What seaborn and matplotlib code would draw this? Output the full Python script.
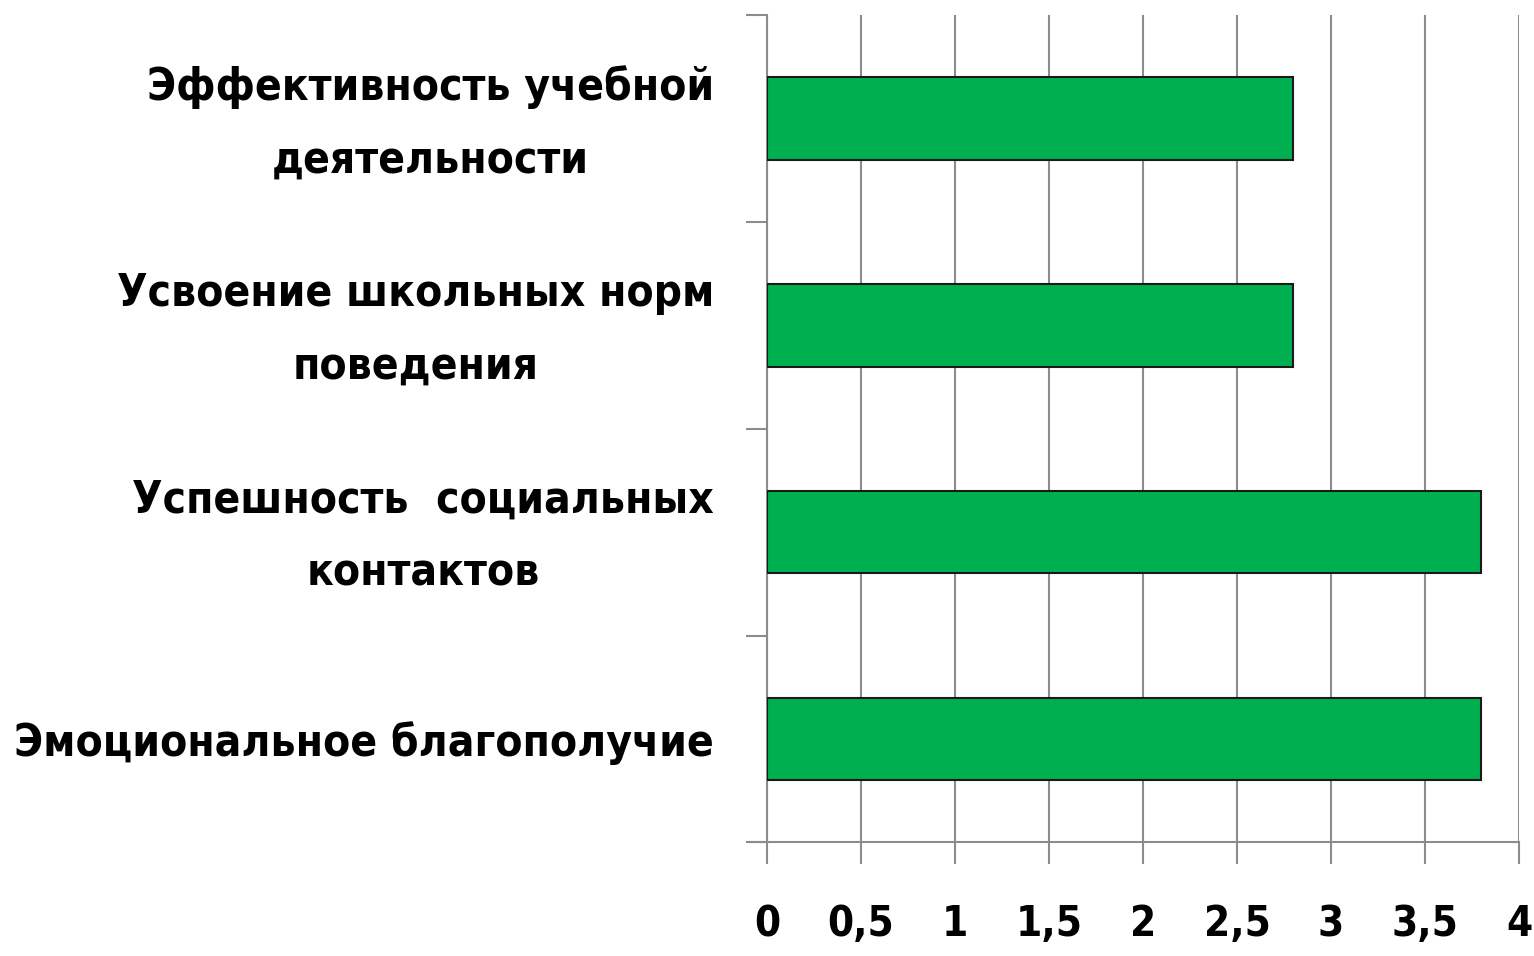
import numpy as np
import matplotlib
matplotlib.use('Agg')
import matplotlib.pyplot as plt
import matplotlib.transforms as mtransforms
import seaborn as sns
import pandas as pd
from matplotlib.ticker import FuncFormatter
from matplotlib import font_manager

# Chart data
categories = [
    'Эффективность учебной\nдеятельности',
    'Усвоение школьных норм\nповедения',
    'Успешность  социальных\nконтактов',
    'Эмоциональное благополучие',
]
values = [2.8, 2.8, 3.8, 3.8]
x_ticks = [0, 0.5, 1, 1.5, 2, 2.5, 3, 3.5, 4]

df = pd.DataFrame({'category': categories, 'value': values})

sns.set_theme(style='white')

# prefer a condensed bold face if the system has one
fp = font_manager.FontProperties(family='DejaVu Sans', stretch='condensed', weight='bold')
path = font_manager.findfont(fp, fallback_to_default=True)
if 'Condensed' in path:
    fam, stretch = 'DejaVu Sans', 'condensed'
else:
    fam, stretch = 'Roboto', 'normal'
plt.rcParams['font.family'] = [fam, 'DejaVu Sans']
plt.rcParams['font.stretch'] = stretch
plt.rcParams['font.weight'] = 'bold'
plt.rcParams['text.color'] = 'black'

fig = plt.figure(figsize=(15.34, 9.56), dpi=100)
ax = fig.add_axes([0.5, 0.119, 0.4902, 0.865])

# size the label font so the longest label is about 698 px wide
probe = fig.text(0, 0, categories[3], fontsize=30, fontweight='bold', fontstretch=stretch)
w = probe.get_window_extent(renderer=fig.canvas.get_renderer()).width
probe.remove()
lab_size = 30 * 698 / w

sns.barplot(data=df, x='value', y='category', orient='h', color='#00B050',
            saturation=1, width=0.4, edgecolor='#1a1a1a', linewidth=1.5, ax=ax, zorder=3)

ax.set_xlim(0, 4)
ax.set_ylim(3.5, -0.5)
ax.set_xticks(x_ticks)
ax.xaxis.set_major_formatter(FuncFormatter(lambda v, p: f'{v:g}'.replace('.', ',')))
ax.set_yticks([-0.5, 0.5, 1.5, 2.5, 3.5], minor=False)
ax.set_yticklabels([])
ax.set_yticks(range(len(categories)), minor=True)
ax.set_yticklabels(categories, minor=True, fontsize=lab_size, fontweight='bold',
                   fontstretch=stretch, color='black',
                   multialignment='center', linespacing=1.87)
ax.tick_params(axis='y', which='minor', length=0, pad=38)
ax.tick_params(axis='y', which='major', length=15, width=1.5, color='#8c8c8c', direction='out', left=True)
ax.tick_params(axis='x', length=16, width=1.5, color='#8c8c8c', direction='out', bottom=True,
               pad=28, labelsize=lab_size * 0.95, labelcolor='black')
for lbl in ax.get_xticklabels():
    lbl.set_fontweight('bold')
    lbl.set_fontstretch(stretch)

# two-line labels sit a bit high in the original
shift = mtransforms.ScaledTranslation(0, 15 / 100, fig.dpi_scale_trans)
for lbl in ax.get_yticklabels(minor=True):
    if '\n' in lbl.get_text():
        lbl.set_transform(lbl.get_transform() + shift)

ax.grid(axis='x', color='#8c8c8c', linewidth=1.5, zorder=0)
ax.set_axisbelow(True)
for side in ['top', 'right']:
    ax.spines[side].set_visible(False)
for side in ['left', 'bottom']:
    ax.spines[side].set_color('#8c8c8c')
    ax.spines[side].set_linewidth(1.5)
ax.spines['bottom'].set_bounds(-0.08, 4)
ax.set_xlabel('')
ax.set_ylabel('')

fig.savefig('out.png', dpi=100, facecolor='white')
